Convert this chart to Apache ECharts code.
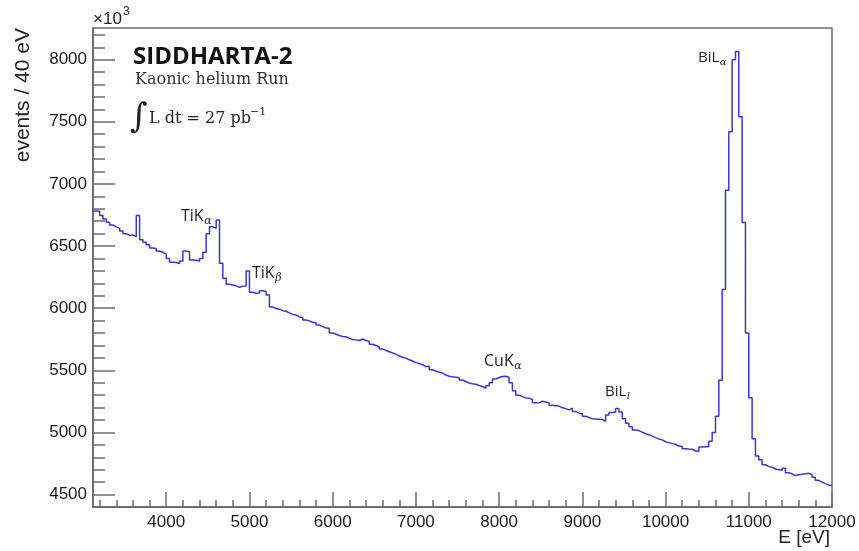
<!DOCTYPE html>
<html>
<head>
<meta charset="UTF-8">
<title>SIDDHARTA-2 Kaonic helium Run</title>
<script type="text/javascript" src="https://cdn.jsdelivr.net/npm/echarts@6/dist/echarts.min.js"></script>
<style>html,body{margin:0;padding:0;background:#fff;}</style>
</head>
<body>
<div id="main" style="width:859px;height:551px;"></div>
<script type="text/javascript">
// histogram: 40 eV bins starting at 3120 eV
var binStart = 3120;
var binWidth = 40;
var counts = [
  6782, 6780, 6745, 6718, 6692, 6670, 6655, 6642, 6622, 6600,
  6585, 6590, 6575, 6745, 6550, 6530, 6510, 6485, 6480, 6460,
  6450, 6435, 6400, 6370, 6368, 6360, 6380, 6460, 6455, 6388,
  6385, 6380, 6400, 6450, 6600, 6655, 6642, 6710, 6362, 6240,
  6192, 6187, 6180, 6168, 6176, 6178, 6300, 6128, 6120, 6122,
  6140, 6135, 6107, 6010, 5998, 5992, 5980, 5975, 5962, 5950,
  5945, 5930, 5925, 5905, 5898, 5885, 5884, 5865, 5852, 5840,
  5838, 5800, 5790, 5780, 5772, 5770, 5759, 5748, 5745, 5740,
  5752, 5740, 5732, 5710, 5700, 5690, 5672, 5660, 5650, 5640,
  5630, 5615, 5605, 5598, 5585, 5575, 5562, 5555, 5545, 5530,
  5532, 5505, 5495, 5485, 5478, 5462, 5452, 5448, 5445, 5440,
  5422, 5410, 5398, 5392, 5388, 5378, 5370, 5356, 5375, 5400,
  5430, 5442, 5450, 5452, 5445, 5400, 5335, 5300, 5288, 5278,
  5276, 5265, 5240, 5238, 5252, 5245, 5240, 5218, 5215, 5212,
  5198, 5192, 5182, 5195, 5168, 5155, 5150, 5130, 5120, 5110,
  5108, 5106, 5104, 5090, 5140, 5160, 5165, 5192, 5165, 5110,
  5075, 5045, 5020, 5015, 5002, 4990, 4982, 4970, 4958, 4948,
  4940, 4925, 4918, 4910, 4905, 4890, 4886, 4868, 4866, 4865,
  4850, 4848, 4882, 4884, 4886, 4930, 5000, 5130, 5420, 6150,
  6950, 7420, 8000, 8065, 7540, 6690, 5800, 5280, 4950, 4810,
  4780, 4740, 4725, 4720, 4705, 4700, 4695, 4712, 4675, 4668,
  4653, 4660, 4663, 4667, 4672, 4660, 4640, 4615, 4600, 4588,
  4578, 4575
];
var xMajor = [4000, 5000, 6000, 7000, 8000, 9000, 10000, 11000, 12000];
var xMinor = [3200, 3400, 3600, 3800, 4200, 4400, 4600, 4800, 5200, 5400, 5600, 5800,
  6200, 6400, 6600, 6800, 7200, 7400, 7600, 7800, 8200, 8400, 8600, 8800,
  9200, 9400, 9600, 9800, 10200, 10400, 10600, 10800, 11200, 11400, 11600, 11800];
var yMajor = [4500, 5000, 5500, 6000, 6500, 7000, 7500, 8000];
var yMinor = [4600, 4700, 4800, 4900, 5100, 5200, 5300, 5400, 5600, 5700, 5800, 5900,
  6100, 6200, 6300, 6400, 6600, 6700, 6800, 6900, 7100, 7200, 7300, 7400,
  7600, 7700, 7800, 7900, 8100, 8200];

var histData = counts.map(function (c, i) { return [binStart + i * binWidth, c]; });
histData.push([binStart + counts.length * binWidth, counts[counts.length - 1]]);

var axisGray = '#6e6e6e';
var xMin = 3120, xMax = 12000, yMin = 4400, yMax = 8255;

var myChart = echarts.init(document.getElementById('main'), null, { renderer: 'canvas' });

// measure text so the subscripts sit right after the main label
var measureCtx = document.createElement('canvas').getContext('2d');
function textWidth(str, size, family) {
  measureCtx.font = size + 'px "' + family + '"';
  return measureCtx.measureText(str).width;
}

function peakLabel(main, sub, x, y, size, subDy) {
  return [
    { type: 'text', x: x, y: y, z: 10,
      style: { text: main, fontFamily: 'Open Sans', fontSize: size, fill: '#222', verticalAlign: 'middle' } },
    { type: 'text', x: x + textWidth(main, size, 'Open Sans') + 0.5, y: y + subDy, z: 10,
      style: { text: sub, fontFamily: 'DejaVu Serif', fontStyle: 'italic', fontSize: Math.round(size * 0.68), fill: '#222', verticalAlign: 'middle' } }
  ];
}

var graphics = [
  { type: 'text', x: 133, y: 57, z: 10,
    style: { text: 'SIDDHARTA-2', fontFamily: 'Open Sans', fontWeight: 'bold', fontSize: 24, fill: '#111', verticalAlign: 'middle' } },
  { type: 'text', x: 135, y: 80, z: 10,
    style: { text: 'Kaonic helium Run', fontFamily: 'DejaVu Serif', fontSize: 16, fill: '#333', verticalAlign: 'middle' } },
  { type: 'text', x: 130, y: 118, z: 10,
    style: { text: '\u222B', fontFamily: 'DejaVu Serif', fontSize: 34, fill: '#222', verticalAlign: 'middle' } },
  { type: 'text', x: 149, y: 119, z: 10,
    style: { text: 'L dt = 27 pb', fontFamily: 'DejaVu Serif', fontSize: 16, fill: '#222', verticalAlign: 'middle' } },
  { type: 'text', x: 250, y: 112, z: 10,
    style: { text: '\u22121', fontFamily: 'DejaVu Serif', fontSize: 11, fill: '#222', verticalAlign: 'middle' } },
  { type: 'text', x: 93, y: 19, z: 10,
    style: { text: '\u00D710', fontFamily: 'Liberation Sans', fontSize: 17, fill: '#222', verticalAlign: 'middle' } },
  { type: 'text', x: 123, y: 12, z: 10,
    style: { text: '3', fontFamily: 'Liberation Sans', fontSize: 12, fill: '#222', verticalAlign: 'middle' } },
  { type: 'text', x: 23, y: 28, rotation: Math.PI / 2, z: 10,
    style: { text: 'events / 40 eV', fontFamily: 'Liberation Sans', fontSize: 21, fill: '#222', align: 'right', verticalAlign: 'middle' } },
  { type: 'text', x: 830, y: 538, z: 10,
    style: { text: 'E [eV]', fontFamily: 'Liberation Sans', fontSize: 19, fill: '#222', align: 'right', verticalAlign: 'middle' } }
]
  .concat(peakLabel('TiK', '\u03B1', 181, 216, 16, 5))
  .concat(peakLabel('TiK', '\u03B2', 252, 273, 16, 5))
  .concat(peakLabel('CuK', '\u03B1', 484, 361, 16, 5))
  .concat(peakLabel('BiL', 'l', 605, 392, 15, 4))
  .concat(peakLabel('BiL', '\u03B1', 698, 58, 15, 4));

function plainNumber(v) { return String(v); }

var option = {
  animation: false,
  backgroundColor: '#ffffff',
  grid: {
    left: 93, right: 27, top: 28, bottom: 44,
    show: true, borderColor: axisGray, borderWidth: 1.5, backgroundColor: 'transparent'
  },
  xAxis: [
    {
      type: 'value', min: xMin, max: xMax, position: 'bottom',
      axisLine: { show: true, onZero: false, lineStyle: { color: axisGray, width: 2 } },
      axisTick: { show: true, inside: true, length: 15, customValues: xMajor, lineStyle: { color: axisGray, width: 1.5 } },
      axisLabel: { customValues: xMajor, formatter: plainNumber, color: '#1a1a1a', fontSize: 17, fontFamily: 'Liberation Sans', margin: 7 },
      splitLine: { show: false }
    },
    {
      type: 'value', min: xMin, max: xMax, position: 'bottom',
      axisLine: { show: false },
      axisTick: { show: true, inside: true, length: 7, customValues: xMinor, lineStyle: { color: axisGray, width: 1.5 } },
      axisLabel: { show: false },
      splitLine: { show: false }
    }
  ],
  yAxis: [
    {
      type: 'value', min: yMin, max: yMax, position: 'left',
      axisLine: { show: true, onZero: false, lineStyle: { color: axisGray, width: 2 } },
      axisTick: { show: true, inside: true, length: 22, customValues: yMajor, lineStyle: { color: axisGray, width: 1.5 } },
      axisLabel: { customValues: yMajor, formatter: plainNumber, color: '#1a1a1a', fontSize: 17, fontFamily: 'Liberation Sans', margin: 6 },
      splitLine: { show: false }
    },
    {
      type: 'value', min: yMin, max: yMax, position: 'left',
      axisLine: { show: false },
      axisTick: { show: true, inside: true, length: 12, customValues: yMinor, lineStyle: { color: axisGray, width: 1.5 } },
      axisLabel: { show: false },
      splitLine: { show: false }
    }
  ],
  series: [
    {
      type: 'line',
      step: 'end',
      xAxisIndex: 0,
      yAxisIndex: 0,
      data: histData,
      showSymbol: false,
      symbol: 'none',
      clip: true,
      silent: true,
      lineStyle: { color: '#3a3ac8', width: 1.5 }
    }
  ],
  graphic: graphics
};

myChart.setOption(option);
</script>
</body>
</html>
